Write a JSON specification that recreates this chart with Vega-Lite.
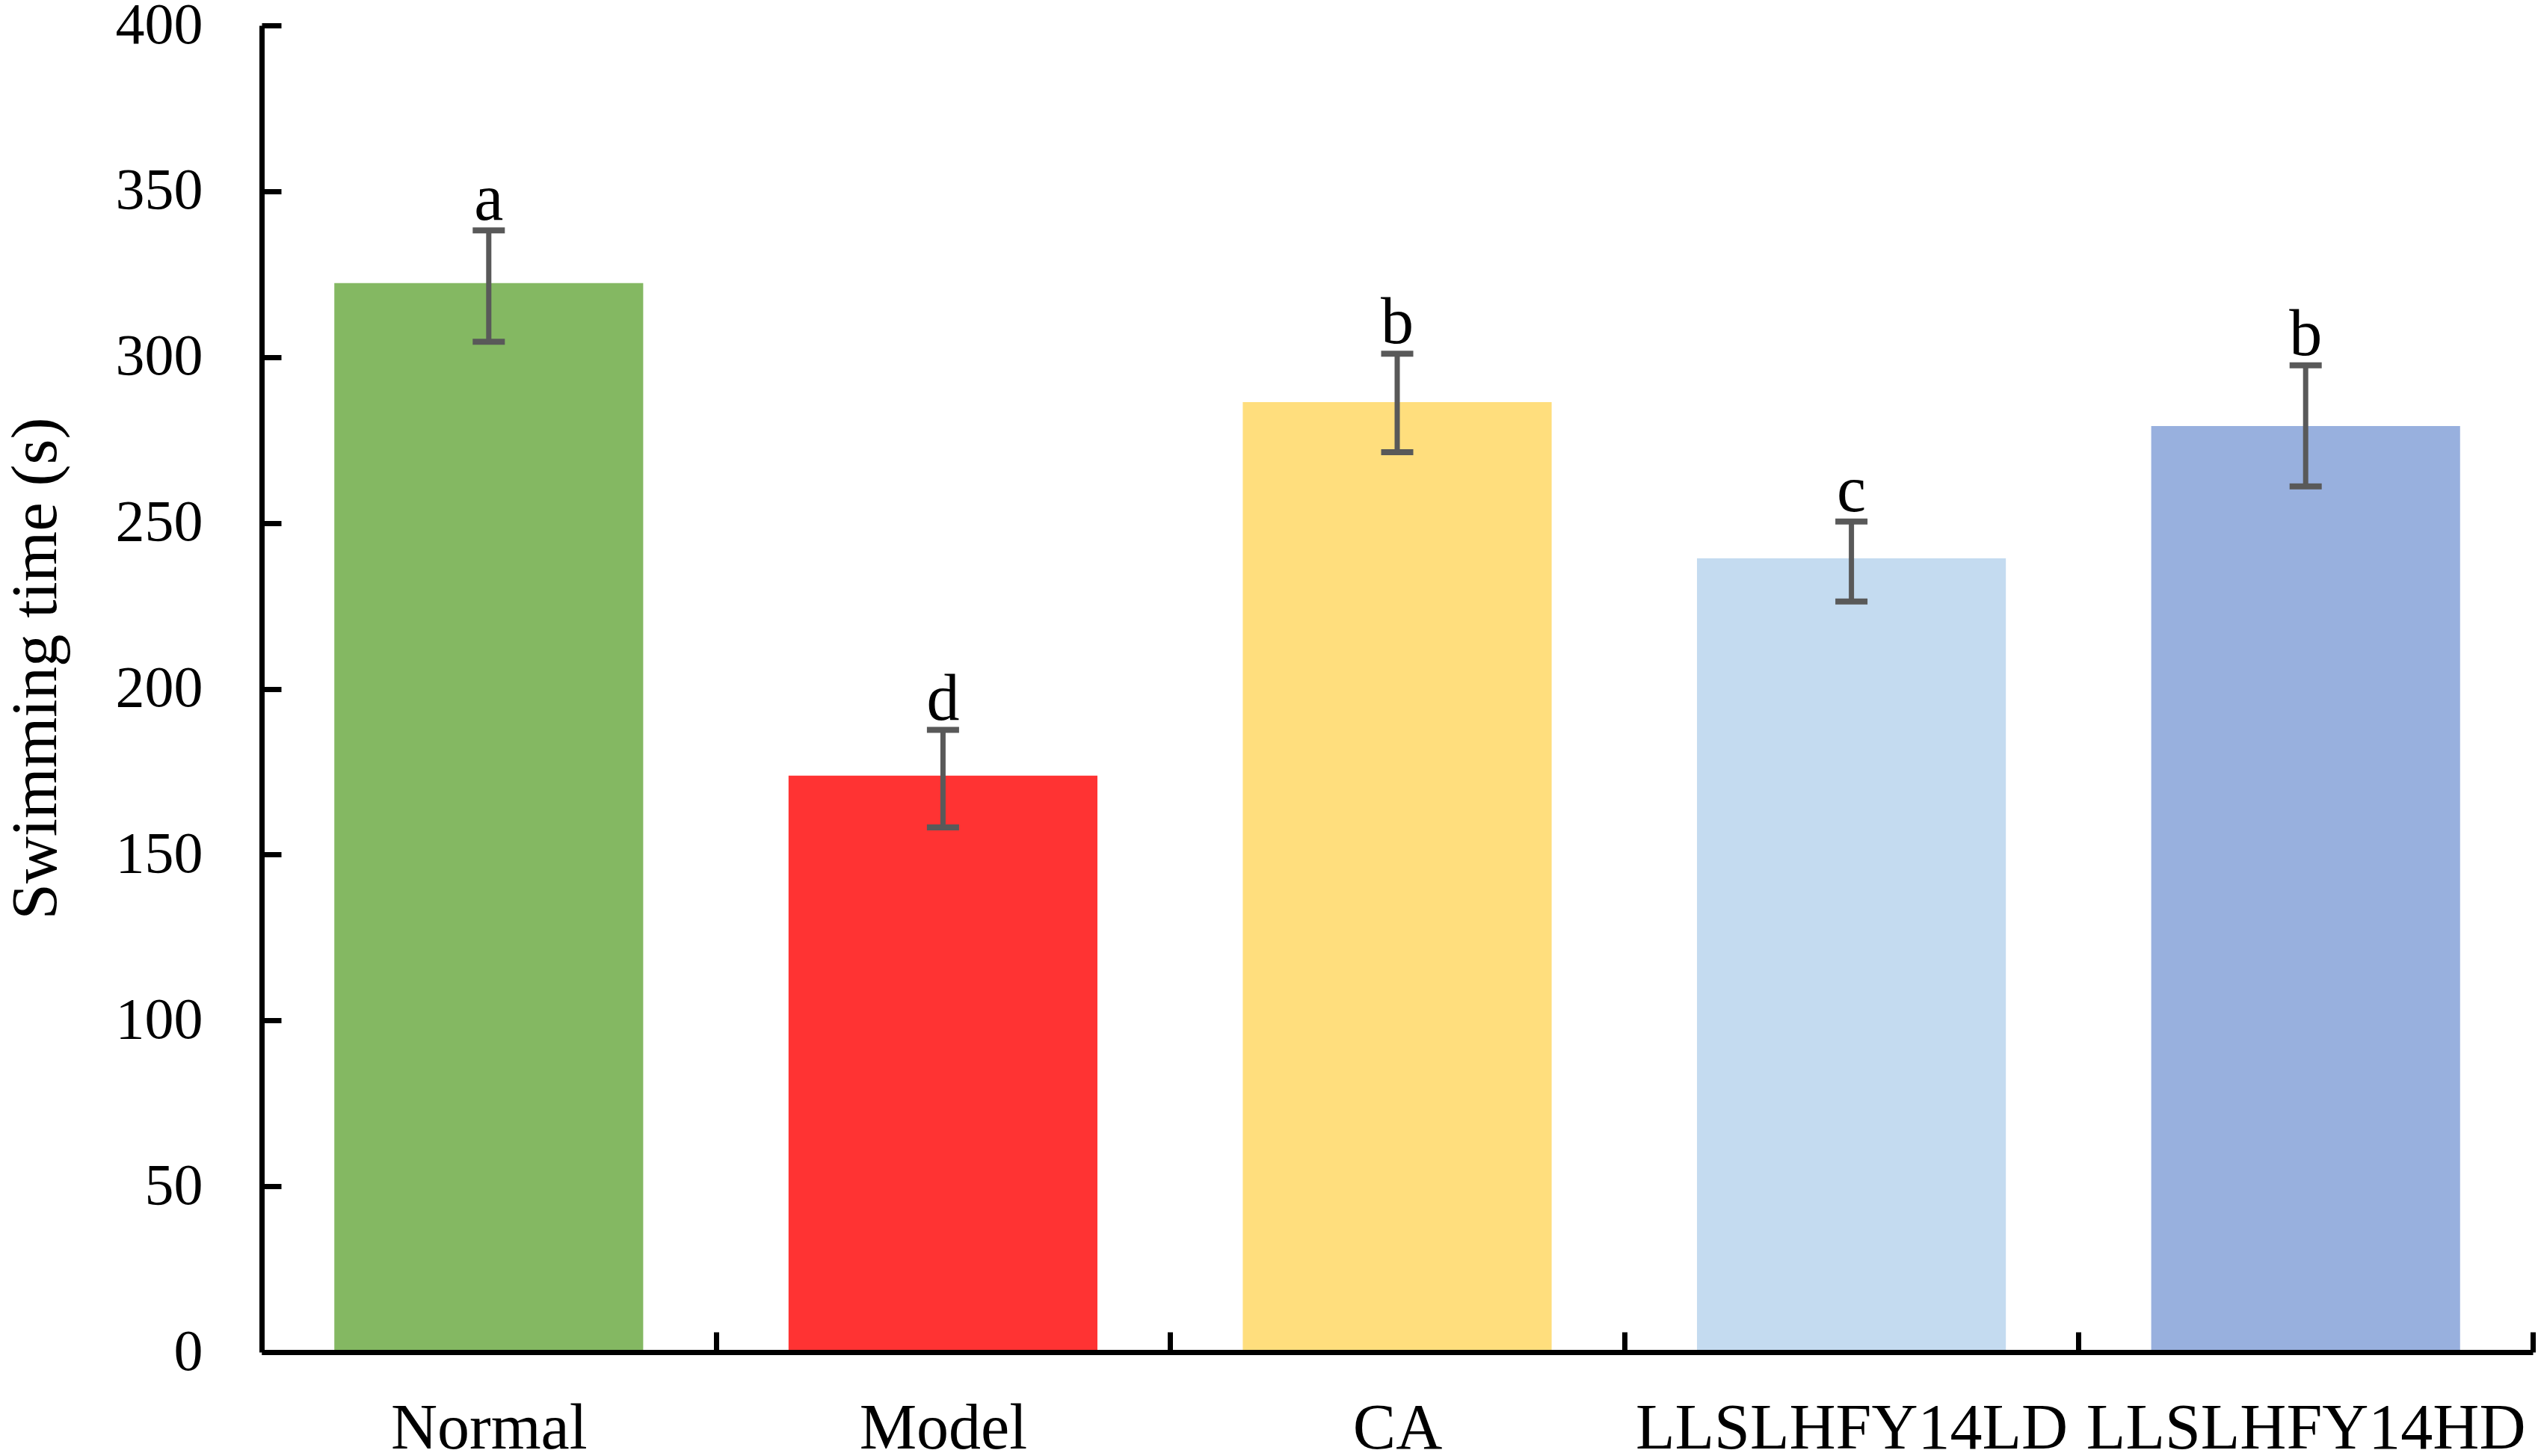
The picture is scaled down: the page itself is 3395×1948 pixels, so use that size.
{
  "$schema": "https://vega.github.io/schema/vega-lite/v6.json",
  "autosize": "none",
  "width": 3038,
  "height": 1775,
  "padding": {"left": 350, "top": 34, "right": 7, "bottom": 139},
  "background": "white",
  "data": {
    "values": [
      {"group": "Normal", "mean": 322.3, "lo": 304.6, "hi": 338.2, "letter": "a", "color": "#84B862"},
      {"group": "Model", "mean": 173.8, "lo": 158.2, "hi": 187.6, "letter": "d", "color": "#FF3333"},
      {"group": "CA", "mean": 286.4, "lo": 271.3, "hi": 301.0, "letter": "b", "color": "#FFDE7D"},
      {"group": "LLSLHFY14LD", "mean": 239.3, "lo": 226.3, "hi": 250.4, "letter": "c", "color": "#C4DBF0"},
      {"group": "LLSLHFY14HD", "mean": 279.2, "lo": 261.0, "hi": 297.5, "letter": "b", "color": "#98B0DE"}
    ]
  },
  "encoding": {
    "x": {
      "field": "group",
      "type": "nominal",
      "sort": null,
      "scale": {"paddingInner": 0.32, "paddingOuter": 0.16},
      "axis": {
        "title": null,
        "zindex": 1,
        "labelAngle": 0,
        "labelFont": "Liberation Serif",
        "labelFontSize": 86,
        "labelColor": "black",
        "labelLimit": 0,
        "labelOverlap": false,
        "labelPadding": 87,
        "labelOffset": -303.8,
        "tickOffset": 303.8,
        "tickSize": -27,
        "tickWidth": 7,
        "tickColor": "black",
        "domainColor": "black",
        "domainWidth": 7
      }
    }
  },
  "layer": [
    {
      "mark": {"type": "bar"},
      "encoding": {
        "y": {
          "field": "mean",
          "type": "quantitative",
          "scale": {"domain": [0, 400], "nice": false},
          "axis": {
            "title": "Swimming time (s)",
            "zindex": 1,
            "titleFont": "Liberation Serif",
            "titleFontSize": 87,
            "titleFontWeight": "normal",
            "titleColor": "black",
            "titleBaseline": "alphabetic",
            "titleX": -276,
            "titleY": 860,
            "titleAngle": -90,
            "values": [0, 50, 100, 150, 200, 250, 300, 350, 400],
            "grid": false,
            "labelFont": "Liberation Serif",
            "labelFontSize": 78,
            "labelColor": "black",
            "labelPadding": 105,
            "tickSize": -26,
            "tickWidth": 7,
            "tickColor": "black",
            "domainColor": "black",
            "domainWidth": 7
          }
        },
        "color": {"field": "color", "type": "nominal", "scale": null}
      }
    },
    {
      "mark": {"type": "rule", "color": "#595959", "strokeWidth": 7},
      "encoding": {
        "y": {"field": "lo", "type": "quantitative"},
        "y2": {"field": "hi"}
      }
    },
    {
      "mark": {"type": "tick", "color": "#595959", "size": 43, "thickness": 8},
      "encoding": {
        "y": {"field": "hi", "type": "quantitative"}
      }
    },
    {
      "mark": {"type": "tick", "color": "#595959", "size": 43, "thickness": 8},
      "encoding": {
        "y": {"field": "lo", "type": "quantitative"}
      }
    },
    {
      "mark": {"type": "text", "font": "Liberation Serif", "fontSize": 88, "color": "black", "baseline": "alphabetic", "align": "center", "dy": -14},
      "encoding": {
        "y": {"field": "hi", "type": "quantitative"},
        "text": {"field": "letter"}
      }
    }
  ],
  "config": {
    "view": {"stroke": null},
    "tick": {"opacity": 1}
  }
}
